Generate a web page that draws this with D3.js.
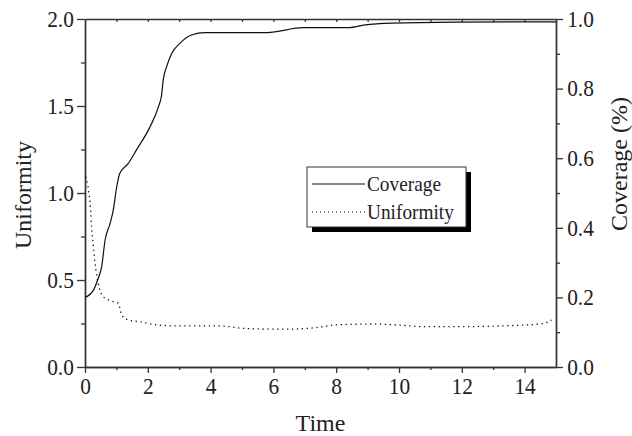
<!DOCTYPE html>
<html>
<head>
<meta charset="utf-8">
<script src="https://cdn.jsdelivr.net/npm/d3@7"></script>
<style>
  body { margin: 0; background: #fff; }
  svg text { font-family: "Liberation Serif", "Times New Roman", serif; fill: #222; }
</style>
</head>
<body>
<svg id="chart" width="632" height="436"></svg>
<script>
// coverage series (right axis)
const coverageTime = [0, 0.27, 0.42, 0.53, 0.64, 0.8, 0.9, 1.01, 1.11, 1.38, 1.64, 2.07, 2.34, 2.44, 2.49, 2.6, 2.76, 3.02, 3.39, 3.82, 5.8, 6.95, 8.39, 8.92, 9.77, 11.84, 15];
const coverageVals = [0.2, 0.221, 0.255, 0.288, 0.365, 0.413, 0.451, 0.518, 0.557, 0.585, 0.624, 0.69, 0.748, 0.782, 0.825, 0.863, 0.901, 0.93, 0.954, 0.961, 0.961, 0.975, 0.975, 0.983, 0.988, 0.991, 0.992];

// uniformity series (left axis)
const uniTime = [0.03, 0.11, 0.18, 0.21, 0.27, 0.32, 0.42, 0.58, 0.85, 1.06, 1.17, 1.38, 1.75, 2.34, 3.02, 4.3, 5.04, 5.89, 6.53, 7.59, 7.9, 9.18, 10.03, 10.77, 11.84, 13.96, 14.6, 14.86];
const uniVals = [1.094, 1.017, 0.902, 0.806, 0.691, 0.596, 0.481, 0.404, 0.379, 0.366, 0.299, 0.27, 0.26, 0.241, 0.236, 0.236, 0.222, 0.218, 0.218, 0.232, 0.241, 0.247, 0.241, 0.232, 0.232, 0.241, 0.251, 0.27];

// ticks
const xMajor = [0, 2, 4, 6, 8, 10, 12, 14];
const xMinor = [1, 3, 5, 7, 9, 11, 13];
const xTop = [1, 2, 3, 4, 5, 6, 7, 8, 9, 10, 11, 12, 13, 14];
const leftMajor = [0, 0.5, 1.0, 1.5, 2.0];
const leftMinor = [0.25, 0.75, 1.25, 1.75];
const rightMajor = [0, 0.2, 0.4, 0.6, 0.8, 1.0];
const rightMinor = [0.1, 0.3, 0.5, 0.7, 0.9];

const seriesNames = ["Coverage", "Uniformity"];

const m = { left: 85, right: 556, top: 19, bottom: 367 };
const svg = d3.select("#chart");

const x = d3.scaleLinear().domain([0, 15]).range([m.left, m.right]);
const yL = d3.scaleLinear().domain([0, 2]).range([m.bottom, m.top]);
const yR = d3.scaleLinear().domain([0, 1]).range([m.bottom, m.top]);

const fmt = d3.format(".1f");
const axisColor = "#333";

// draws an axis and styles it (labels a bit condensed like the original)
function drawAxis(gen, tx, ty) {
  const g = svg.append("g").attr("transform", `translate(${tx},${ty})`).call(gen);
  g.select(".domain").attr("stroke", axisColor).attr("stroke-width", 1.4);
  g.selectAll(".tick line").attr("stroke", axisColor).attr("stroke-width", 1.3);
  g.selectAll("text").attr("font-size", 23).attr("fill", "#222")
    .attr("transform", "scale(0.93,1)")
    .style("font-family", '"Liberation Serif", serif');
  return g;
}

// minor ticks first
drawAxis(d3.axisLeft(yL).tickValues(leftMinor).tickSize(4).tickSizeOuter(0).tickFormat(""), m.left, 0);
drawAxis(d3.axisRight(yR).tickValues(rightMinor).tickSize(4).tickSizeOuter(0).tickFormat(""), m.right, 0);
drawAxis(d3.axisBottom(x).tickValues(xMinor).tickSize(3).tickSizeOuter(0).tickFormat(""), 0, m.bottom);
drawAxis(d3.axisTop(x).tickValues(xTop).tickSize(-3).tickSizeOuter(0).tickFormat(""), 0, m.top);

// major ticks
drawAxis(d3.axisLeft(yL).tickValues(leftMajor).tickSize(8).tickSizeOuter(0).tickPadding(4).tickFormat(fmt), m.left, 0);
drawAxis(d3.axisRight(yR).tickValues(rightMajor).tickSize(7).tickSizeOuter(0).tickPadding(5).tickFormat(fmt), m.right, 0);
drawAxis(d3.axisBottom(x).tickValues(xMajor).tickSize(6).tickSizeOuter(0).tickPadding(5).tickFormat(d3.format("d")), 0, m.bottom);

// lines
const covLine = d3.line()
  .x((d, i) => x(coverageTime[i]))
  .y(d => yR(d))
  .curve(d3.curveMonotoneX);
const uniLine = d3.line()
  .x((d, i) => x(uniTime[i]))
  .y(d => yL(d))
  .curve(d3.curveMonotoneX);

svg.append("path").attr("d", covLine(coverageVals))
  .attr("fill", "none").attr("stroke", "#111").attr("stroke-width", 1.2);
svg.append("path").attr("d", uniLine(uniVals))
  .attr("fill", "none").attr("stroke", "#111").attr("stroke-width", 1.3)
  .attr("stroke-dasharray", "1.3,3.6");

// axis titles
svg.append("text").attr("x", x(7.5)).attr("y", 431)
  .attr("text-anchor", "middle").attr("font-size", 24).text("Time");
svg.append("text").attr("transform", "translate(31,195) rotate(-90)")
  .attr("text-anchor", "middle").attr("font-size", 24).text("Uniformity");
svg.append("text").attr("transform", "translate(627,164) rotate(-90)")
  .attr("text-anchor", "middle").attr("font-size", 24).text("Coverage (%)");

// legend
const lg = svg.append("g");
lg.append("rect").attr("x", 312).attr("y", 172).attr("width", 159).attr("height", 60).attr("fill", "#000");
lg.append("rect").attr("x", 307).attr("y", 167).attr("width", 159).attr("height", 60)
  .attr("fill", "#fff").attr("stroke", axisColor).attr("stroke-width", 1);
const legRows = lg.selectAll(".row").data(seriesNames).enter().append("g")
  .attr("transform", (d, i) => `translate(312,${184 + i * 28})`);
legRows.append("line").attr("x1", 0).attr("x2", 53).attr("y1", 0).attr("y2", 0)
  .attr("stroke", "#111").attr("stroke-width", 1.2)
  .attr("stroke-dasharray", (d, i) => i ? "1,3" : null);
legRows.append("text").attr("transform", "translate(55,7) scale(0.92,1)")
  .attr("font-size", 21).text(d => d);
</script>
</body>
</html>
